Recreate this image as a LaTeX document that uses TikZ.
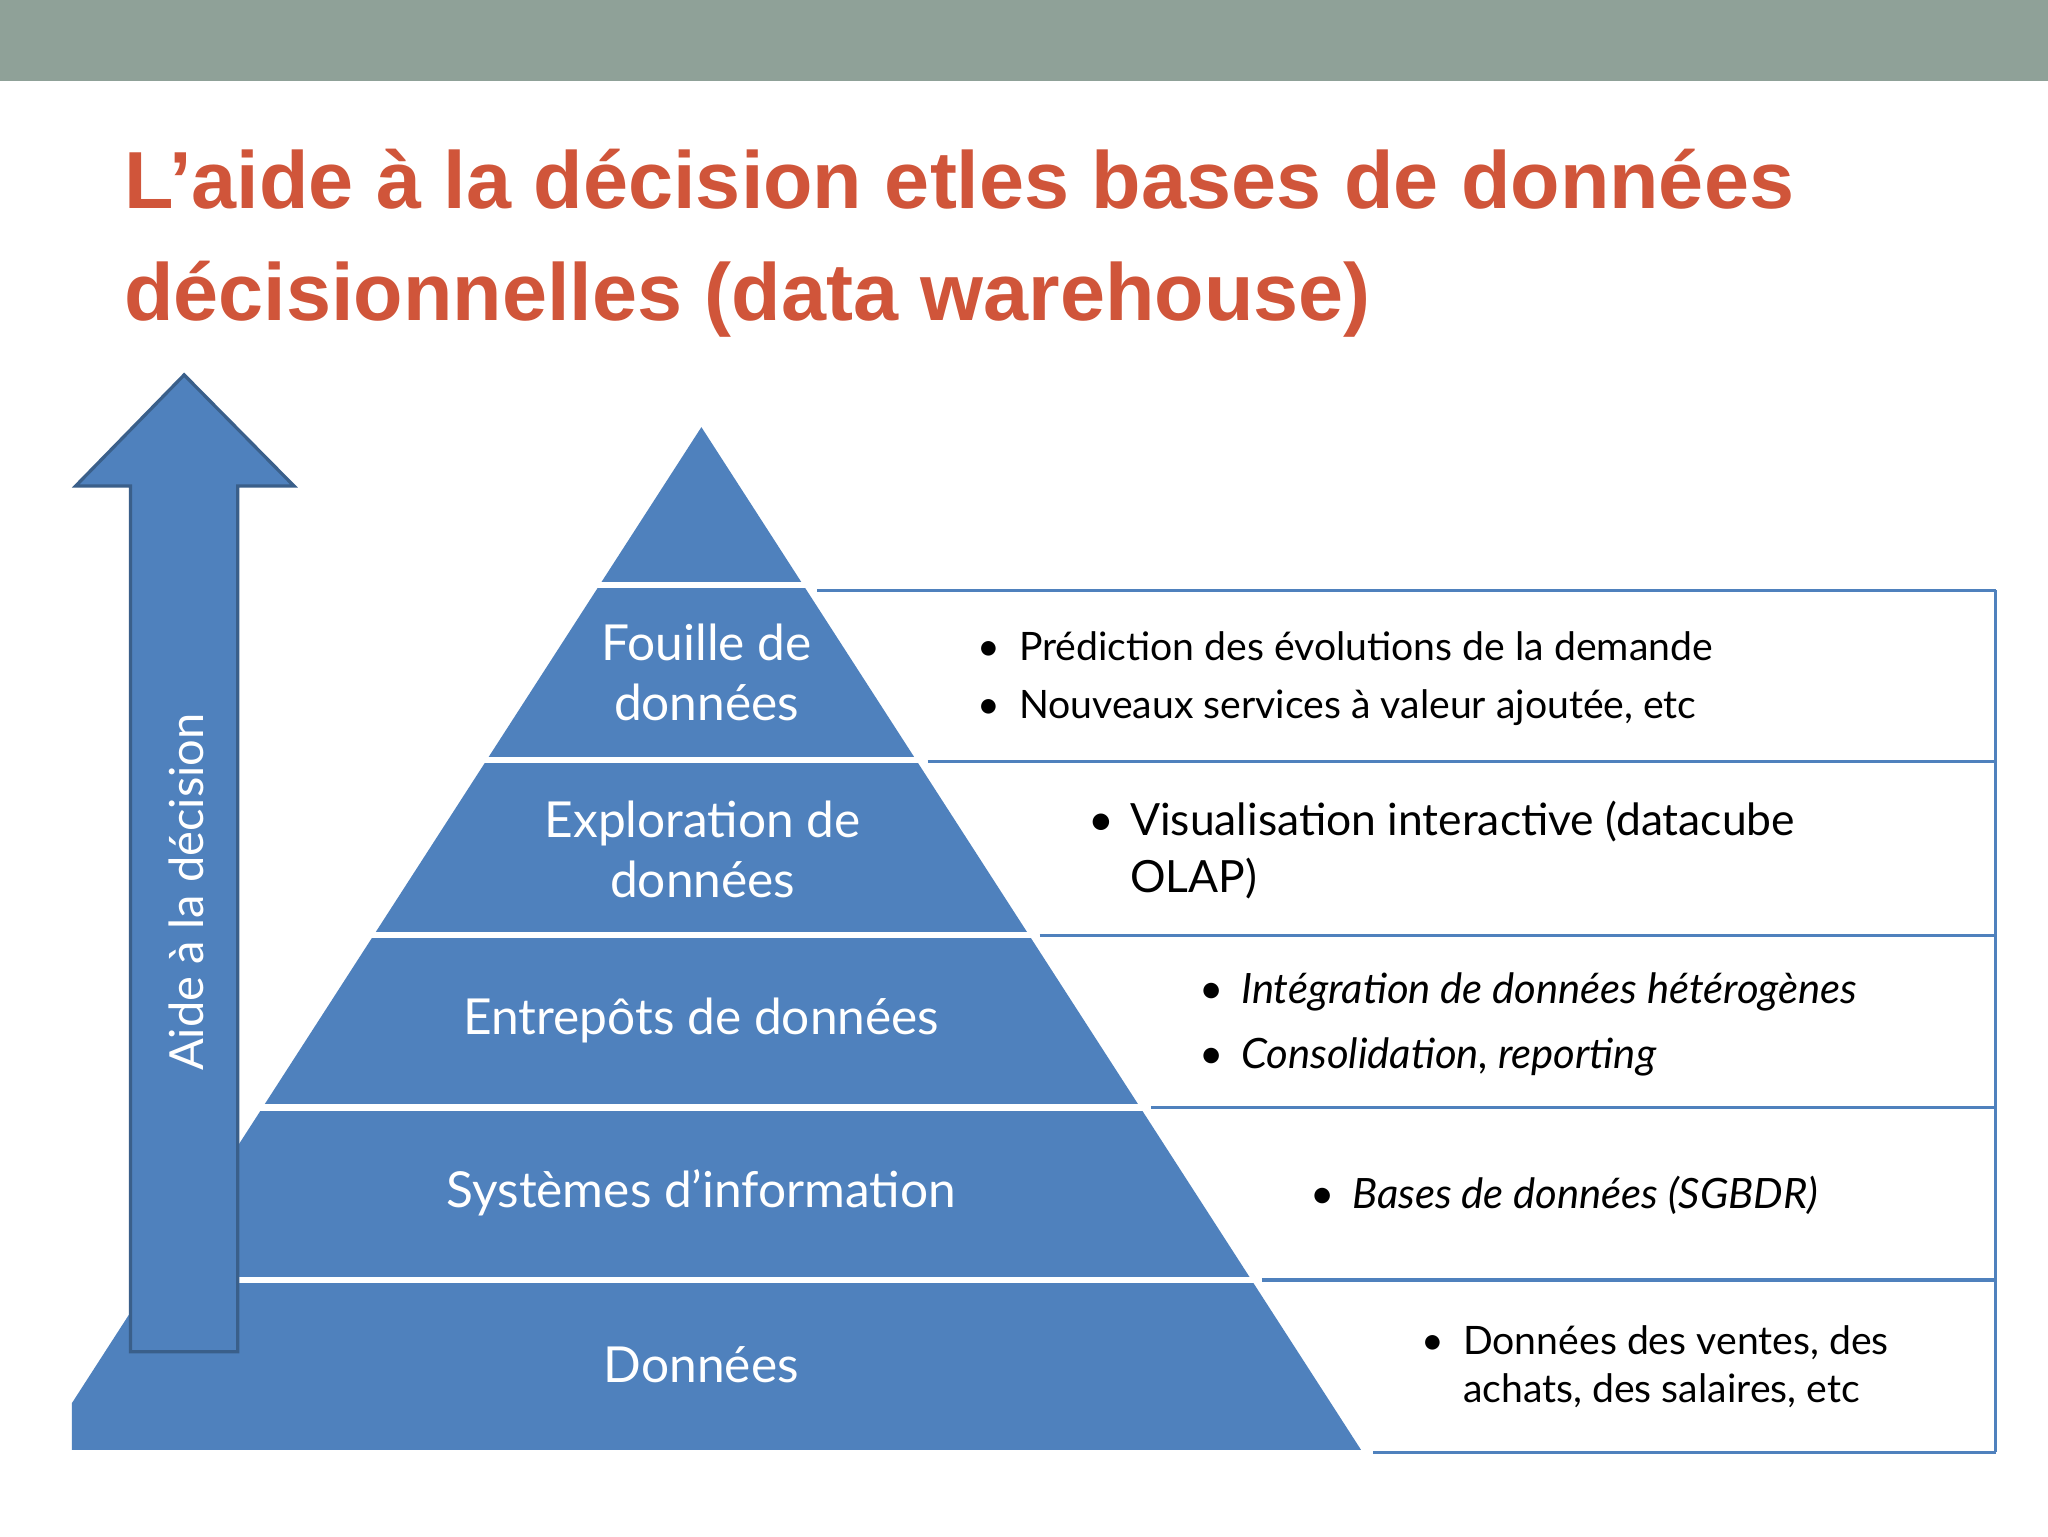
\documentclass[tikz,border=0pt]{standalone}
\usepackage{fontspec}
\setmainfont{Lato}
\newfontfamily\titlefont{Liberation Sans}
\definecolor{bar}{HTML}{8FA198}
\definecolor{ttl}{HTML}{D0553A}
\definecolor{pyr}{HTML}{4F81BD}
\definecolor{pyrd}{HTML}{3A5F8A}
\begin{document}
\begin{tikzpicture}[x=1pt,y=-1pt,
  ttlstyle/.style={anchor=base west,inner sep=0,text=ttl,font=\titlefont\bfseries\fontsize{62}{70}\selectfont},
  plab/.style={text=white,align=center,font=\fontsize{38}{46}\selectfont},
  row/.style={anchor=base west,inner sep=0,font=\fontsize{#1}{#1}\selectfont},
  rowline/.style={draw=pyr,line width=2.5pt}]
\useasboundingbox (0,0) rectangle (1568,1176);
\fill[white] (0,0) rectangle (1568,1176);
\fill[bar] (0,0) rectangle (1568,62);
\node[ttlstyle] (t1) at (95,160) {L’aide à la décision etles bases de données};
\node[ttlstyle] (t2) at (95,245) {décisionnelles (data warehouse)};
% pyramid
\begin{scope}
\clip (55,300) rectangle (1100,1110);
\fill[pyr] (537,327) -- (1042,1110) -- (32,1110) -- cycle;
\end{scope}
\foreach \y in {448,582,716,848,980}
  \draw[white,line width=5pt] (40,\y) -- (1100,\y);
% table lines
\foreach \y in {452,583,716,848,980,1112}
  \draw[rowline] ({537+0.645*(\y-327)+8},\y) -- (1528,\y);
\draw[rowline] (1528,452) -- (1528,1112);
% arrow
\draw[pyrd,line width=2.5pt,fill=pyr] (141,287) -- (225,372) -- (182,372) -- (182,1035) -- (100,1035) -- (100,372) -- (58,372) -- cycle;
\node[rotate=90,text=white,font=\fontsize{36}{40}\selectfont] (ad) at (143,683) {Aide à la décision};
% labels
\node[plab] (p1) at (541,515) {Fouille de\\données};
\node[plab] (p2) at (538,650) {Exploration de\\données};
\node[plab] (p3) at (537,781) {Entrepôts de données};
\node[plab] (p4) at (537,913) {Systèmes d’information};
\node[plab] (p5) at (537,1045) {Données};
% rows
\node[row=30] (b1) at (748,506) {•}; \node[row=30] (r1) at (780,506) {Prédiction des évolutions de la demande};
\node[row=30] (b2) at (748,550) {•}; \node[row=30] (r2) at (780,550) {Nouveaux services à valeur ajoutée, etc};
\node[row=34] (b3) at (833,640) {•}; \node[row=34] (r3) at (865,640) {Visualisation interactive (datacube};
\node[row=34] (r3b) at (865,683) {OLAP)};
\node[row=32] (b4) at (918,768) {•}; \node[row=32,font=\fontsize{32}{32}\selectfont\itshape] (r4) at (950,768) {Intégration de données hétérogènes};
\node[row=32] (b5) at (918,818) {•}; \node[row=32,font=\fontsize{32}{32}\selectfont\itshape] (r5) at (950,818) {Consolidation, reporting};
\node[row=32] (b6) at (1003,925) {•}; \node[row=32,font=\fontsize{32}{32}\selectfont\itshape] (r6) at (1035,925) {Bases de données (SGBDR)};
\node[row=30] (b7) at (1088,1037) {•}; \node[row=30] (r7) at (1120,1037) {Données des ventes, des};
\node[row=30] (r7b) at (1120,1074) {achats, des salaires, etc};
\end{tikzpicture}
\end{document}
